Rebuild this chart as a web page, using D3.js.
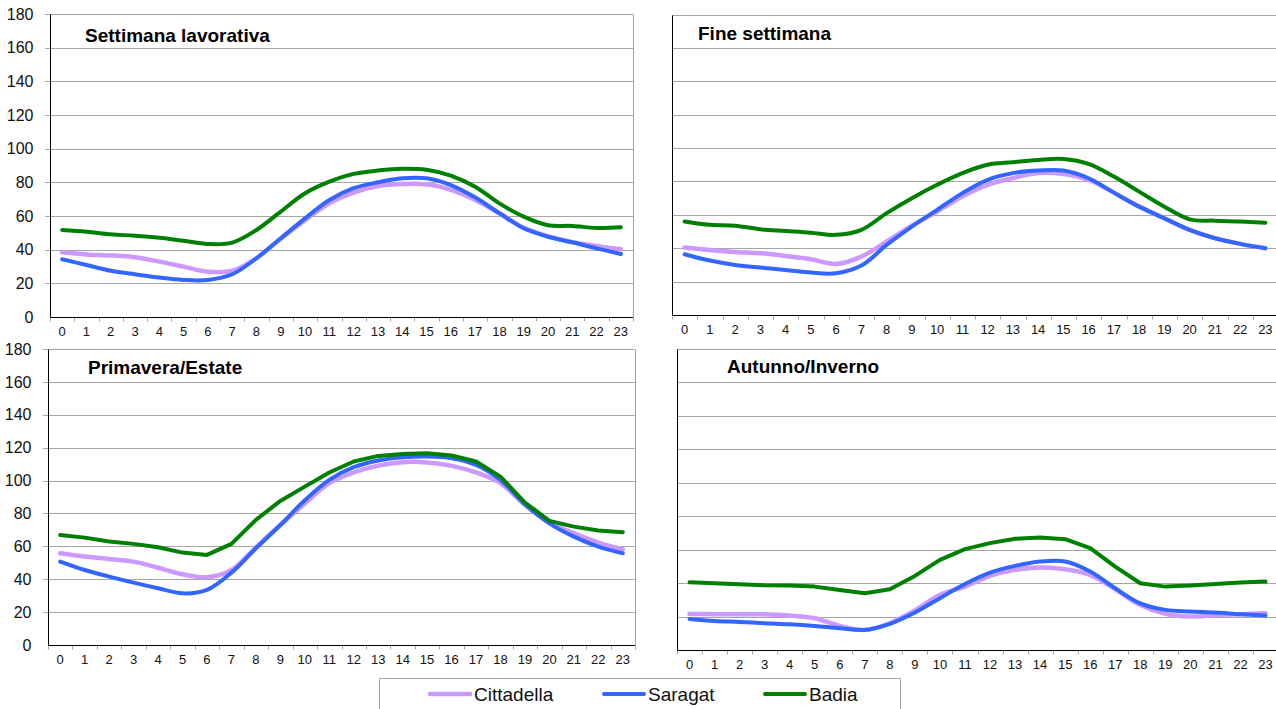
<!DOCTYPE html>
<html>
<head>
<meta charset="utf-8">
<script src="https://cdn.jsdelivr.net/npm/d3@7"></script>
<style>
  body { margin: 0; background: #fff; }
  svg { display: block; font-family: "Liberation Sans", Arial, sans-serif; }
</style>
</head>
<body>
<svg id="chart" width="1276" height="709"></svg>
<script>
// categories and values
const hours = ["0","1","2","3","4","5","6","7","8","9","10","11","12","13","14","15","16","17","18","19","20","21","22","23"]
const seriesNames = ["Cittadella", "Saragat", "Badia"]
const yTicks = [0, 20, 40, 60, 80, 100, 120, 140, 160, 180]

const lavorativaCittadella = [38.4,37.2,36.6,35.5,32.9,29.9,26.9,27.5,35,46.5,57.5,67.5,73.9,77.8,79,78.8,75.5,69.5,61.6,53,48,44.4,42.2,40.2]
const lavorativaSaragat    = [34.3,30.9,27.5,25.4,23.4,22,22,25.4,34.9,46.8,58.6,69.5,76.5,80,82.4,82.4,78.4,71.1,61.6,52.7,47.7,44.4,40.8,37.4]
const lavorativaBadia      = [51.7,50.7,49.1,48.3,47.1,45.3,43.4,44.2,51.7,62.6,73.5,80.4,85,87,88.1,87.5,84,77.4,67.5,59.6,54.5,54.1,52.9,53.3]

const weekendCittadella = [40.4,39,37.8,37,35.4,33.4,30.6,35,44,53.5,62,71,78,82,85,84.5,81,73.3,65,58,51,46,42.6,40]
const weekendSaragat    = [36.4,32.6,30,28.4,27,25.4,25,29.6,42,53,63,73,81,85,86.5,86.5,81.9,73.3,64.9,57.9,51,46,42.6,40]
const weekendBadia      = [56,54,53.5,51.3,50.3,49.3,48,51,61,70,78,85,90,91.5,92.9,93.5,90.5,82.9,73.9,64.9,57.3,56.5,56,55.3]

const estateCittadella = [55.8,53.8,52.3,50.7,47,43,41.2,45.6,59.4,73,86,98.4,104.9,109.1,111.2,111,108.9,104.9,98.4,85.2,74.4,68,62.3,58.2]
const estateSaragat    = [50.7,45.6,41.6,37.9,34.5,31.4,33.5,44,58.8,73,88,100.4,108.1,112.2,114.2,114.6,113.6,109.5,100.4,85.6,74,65.9,59.8,55.8]
const estateBadia      = [66.9,65.3,62.9,61.5,59.4,56.2,54.8,61.5,76.1,87.6,96.3,104.9,111.6,115,116.2,116.6,115.2,111.6,102.4,86.6,75.5,72,69.6,68.6]

const invernoCittadella = [21.6,21.4,21.4,21.4,20.6,19,14.4,12,16,23.6,33,37.9,44.3,47.9,49.3,48.3,44.9,36.3,26.9,21.6,20,21,21.4,22]
const invernoSaragat    = [18.6,17.4,16.8,16,15.4,14.4,13,12,15.6,22.4,31,39.5,46.3,50.3,52.9,52.9,46.9,36.9,27.9,24,23,22.4,21.4,20.6]
const invernoBadia      = [40.5,39.9,39.3,38.7,38.5,37.9,35.9,33.9,36.3,44.3,53.9,60.3,63.9,66.5,67.3,66.3,60.9,49.9,39.9,37.9,38.5,39.5,40.3,40.9]

// styles
const colors = ["#cc99ff", "#3366ff", "#008000"]
const widths = [4.5, 4, 4]
const gridColor = "#a6a6a6"

// panel layout
const panels = [
  { title: "Settimana lavorativa", data: [lavorativaCittadella, lavorativaSaragat, lavorativaBadia],
    left: 50, right: 633, top: 14, bottom: 317, titleX: 85, titleY: 41.5, yLabels: true, border: true, linear: [false, false, false] },
  { title: "Fine settimana", data: [weekendCittadella, weekendSaragat, weekendBadia],
    left: 672, right: 1278, top: 14.5, bottom: 315, titleX: 698, titleY: 39.5, yLabels: false, border: false, linear: [false, false, false] },
  { title: "Primavera/Estate", data: [estateCittadella, estateSaragat, estateBadia],
    left: 48, right: 635, top: 349, bottom: 645, titleX: 88, titleY: 374, yLabels: true, border: true, linear: [false, false, true] },
  { title: "Autunno/Inverno", data: [invernoCittadella, invernoSaragat, invernoBadia],
    left: 677, right: 1278, top: 349, bottom: 650, titleX: 727, titleY: 372.5, yLabels: false, border: false, linear: [false, false, true] }
]

const svg = d3.select("#chart")

panels.forEach(p => {
  const x = d3.scaleBand().domain(hours).range([p.left, p.right]).padding(0)
  const y = d3.scaleLinear().domain([0, 180]).range([p.bottom, p.top])
  const g = svg.append("g")
  const snap = v => Math.round(v) + 0.5

  // gridlines
  g.selectAll(".grid").data(yTicks.filter(d => d > 0)).enter().append("line")
      .attr("x1", p.yLabels ? p.left - 5 : p.left).attr("x2", p.right)
      .attr("y1", d => snap(y(d))).attr("y2", d => snap(y(d)))
      .attr("stroke", gridColor).attr("stroke-width", 1)

  if (p.border) {
    g.append("line")
        .attr("x1", snap(p.right)).attr("x2", snap(p.right))
        .attr("y1", snap(p.top)).attr("y2", snap(p.bottom))
        .attr("stroke", gridColor)
  }

  // y labels
  if (p.yLabels) {
    g.append("g")
        .attr("transform", `translate(${snap(p.left)},0)`)
        .call(d3.axisLeft(y).tickValues(yTicks).tickSize(0).tickPadding(17))
        .call(a => a.select(".domain").remove())
        .selectAll("text")
          .attr("font-size", 16).attr("fill", "#111")
          .attr("font-family", "Liberation Sans, Arial, sans-serif")
  }

  // x axis: labels centered in bands, ticks on band edges
  const xAxis = g.append("g")
      .attr("transform", `translate(0,${snap(p.bottom)})`)
      .call(d3.axisBottom(x).tickSize(0).tickPadding(9))
  xAxis.select(".domain").remove()
  xAxis.selectAll("text")
      .attr("font-size", 13).attr("fill", "#111")
      .attr("font-family", "Liberation Sans, Arial, sans-serif")

  const edges = hours.map(h => x(h)).concat([x.range()[1]])
  g.selectAll(".xtick").data(edges).enter().append("line")
      .attr("x1", d => snap(d)).attr("x2", d => snap(d))
      .attr("y1", snap(p.bottom)).attr("y2", snap(p.bottom) + 4)
      .attr("stroke", gridColor)

  // axis lines
  g.append("line")
      .attr("x1", snap(p.left)).attr("x2", snap(p.left))
      .attr("y1", snap(p.top)).attr("y2", snap(p.bottom))
      .attr("stroke", "#000")
  g.append("line")
      .attr("x1", snap(p.left)).attr("x2", p.right)
      .attr("y1", snap(p.bottom)).attr("y2", snap(p.bottom))
      .attr("stroke", "#000")

  // series
  p.data.forEach((values, s) => {
    const line = d3.line()
        .x((d, i) => x(hours[i]) + x.bandwidth() / 2)
        .y(d => y(d))
        .curve(p.linear[s] ? d3.curveLinear : d3.curveCatmullRom.alpha(0.5))
    g.append("path")
        .datum(values)
        .attr("d", line)
        .attr("fill", "none")
        .attr("stroke", colors[s])
        .attr("stroke-width", widths[s])
        .attr("stroke-linejoin", "round")
        .attr("stroke-linecap", "round")
  })

  g.append("text")
      .attr("x", p.titleX).attr("y", p.titleY)
      .attr("font-size", 19).attr("font-weight", "bold").attr("fill", "#000")
      .text(p.title)
})

// legend
const legendX = [428, 602, 763]
const legend = svg.append("g")
legend.append("rect")
    .attr("x", 379.5).attr("y", 678.5).attr("width", 521).attr("height", 40)
    .attr("fill", "#fff").attr("stroke", gridColor)
seriesNames.forEach((name, s) => {
  legend.append("line")
      .attr("x1", legendX[s] + 2).attr("x2", legendX[s] + 42)
      .attr("y1", 694).attr("y2", 694)
      .attr("stroke", colors[s]).attr("stroke-width", widths[s])
      .attr("stroke-linecap", "round")
  legend.append("text")
      .attr("x", legendX[s] + 46).attr("y", 701)
      .attr("font-size", 19).attr("fill", "#111")
      .text(name)
})
</script>
</body>
</html>
